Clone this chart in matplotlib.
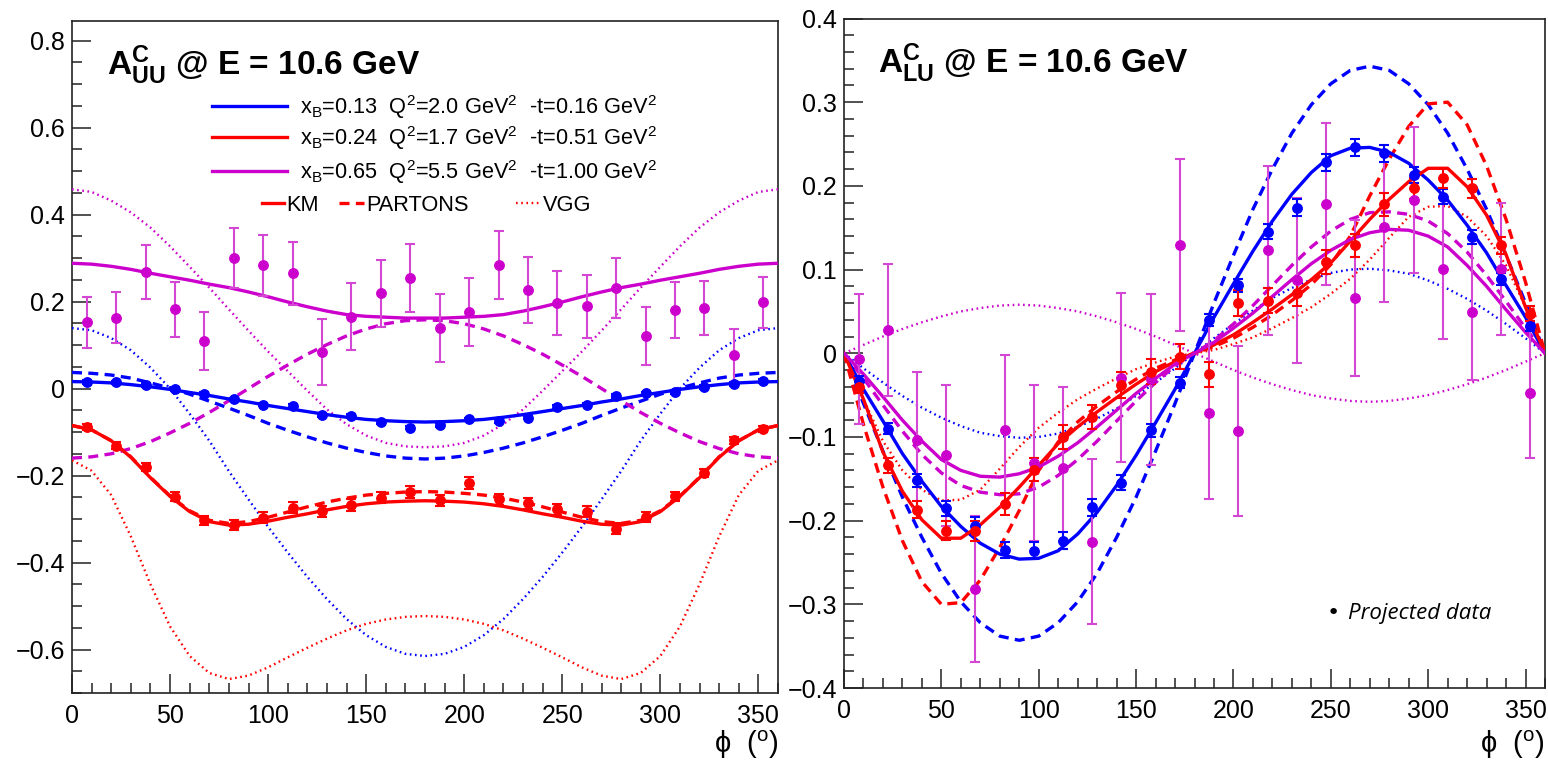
import numpy as np
import matplotlib
matplotlib.use("Agg")
import matplotlib.pyplot as plt
from matplotlib.ticker import MultipleLocator, FuncFormatter

plt.rcParams['font.family'] = ['Liberation Sans', 'DejaVu Sans']
plt.rcParams['mathtext.fontset'] = 'custom'
plt.rcParams['mathtext.rm'] = 'Liberation Sans'
plt.rcParams['mathtext.it'] = 'Liberation Sans:italic'
plt.rcParams['mathtext.bf'] = 'Liberation Sans:bold'
plt.rcParams['mathtext.default'] = 'regular'
plt.rcParams['axes.unicode_minus'] = True

# ---------------- data ----------------
phi_curve = np.arange(0, 361, 10)          # model curves sampled every 10 deg
phi_bins = np.arange(7.5, 360, 15)         # projected data bin centres

# A_UU (left panel) model curves
uu_km_blue = [0.016, 0.015, 0.013, 0.009, 0.004, -0.002, -0.009, -0.016, -0.024, -0.031, -0.039, -0.046,
              -0.053, -0.060, -0.066, -0.071, -0.074, -0.076, -0.077,
              -0.076, -0.074, -0.071, -0.066, -0.060, -0.053, -0.046, -0.039, -0.031, -0.024, -0.016,
              -0.009, -0.002, 0.004, 0.009, 0.013, 0.015, 0.016]
uu_pa_blue = [0.037, 0.035, 0.031, 0.024, 0.013, 0.001, -0.013, -0.029, -0.045, -0.062, -0.080, -0.096,
              -0.111, -0.125, -0.137, -0.147, -0.155, -0.160, -0.162,
              -0.160, -0.155, -0.147, -0.137, -0.125, -0.111, -0.096, -0.080, -0.062, -0.045, -0.029,
              -0.013, 0.001, 0.013, 0.024, 0.031, 0.035, 0.037]
uu_vgg_blue = [0.139, 0.134, 0.116, 0.088, 0.048, 0.000, -0.058, -0.120, -0.190, -0.255, -0.318, -0.377,
               -0.433, -0.484, -0.530, -0.567, -0.594, -0.610, -0.615,
               -0.610, -0.594, -0.567, -0.530, -0.484, -0.433, -0.377, -0.318, -0.255, -0.190, -0.120,
               -0.058, 0.000, 0.048, 0.088, 0.116, 0.134, 0.139]
uu_km_red = [-0.085, -0.095, -0.120, -0.158, -0.205, -0.248, -0.283, -0.306, -0.314, -0.312, -0.305, -0.296,
             -0.288, -0.279, -0.271, -0.265, -0.261, -0.259, -0.258,
             -0.259, -0.261, -0.265, -0.271, -0.279, -0.288, -0.296, -0.305, -0.312, -0.314, -0.306,
             -0.283, -0.248, -0.205, -0.158, -0.120, -0.095, -0.085]
uu_pa_red = [-0.085, -0.095, -0.120, -0.157, -0.204, -0.247, -0.281, -0.303, -0.310, -0.306, -0.296, -0.284,
             -0.272, -0.261, -0.252, -0.245, -0.241, -0.238, -0.237,
             -0.238, -0.241, -0.245, -0.252, -0.261, -0.272, -0.284, -0.296, -0.306, -0.310, -0.303,
             -0.281, -0.247, -0.204, -0.157, -0.120, -0.095, -0.085]
uu_vgg_red = [-0.165, -0.189, -0.245, -0.340, -0.450, -0.547, -0.615, -0.654, -0.668, -0.660, -0.641, -0.618,
              -0.596, -0.575, -0.556, -0.541, -0.531, -0.525, -0.523,
              -0.525, -0.531, -0.541, -0.556, -0.575, -0.596, -0.618, -0.641, -0.660, -0.668, -0.654,
              -0.615, -0.547, -0.450, -0.340, -0.245, -0.189, -0.165]
uu_km_mag = [0.288, 0.286, 0.281, 0.274, 0.265, 0.257, 0.249, 0.240, 0.232, 0.222, 0.211, 0.199,
             0.188, 0.178, 0.170, 0.166, 0.164, 0.162, 0.162,
             0.162, 0.164, 0.166, 0.170, 0.178, 0.188, 0.199, 0.211, 0.222, 0.232, 0.240,
             0.249, 0.257, 0.265, 0.274, 0.281, 0.286, 0.288]
uu_pa_mag = [-0.160, -0.157, -0.150, -0.138, -0.122, -0.102, -0.080, -0.055, -0.028, 0.000, 0.028, 0.054,
             0.079, 0.101, 0.121, 0.137, 0.149, 0.156, 0.158,
             0.156, 0.149, 0.137, 0.121, 0.101, 0.079, 0.054, 0.028, 0.000, -0.028, -0.055,
             -0.080, -0.102, -0.122, -0.138, -0.150, -0.157, -0.160]
uu_vgg_mag = [0.458, 0.452, 0.432, 0.405, 0.370, 0.327, 0.280, 0.232, 0.182, 0.133, 0.085, 0.040,
              -0.005, -0.048, -0.082, -0.108, -0.125, -0.133, -0.135,
              -0.133, -0.125, -0.108, -0.082, -0.048, -0.005, 0.040, 0.085, 0.133, 0.182, 0.232,
              0.280, 0.327, 0.370, 0.405, 0.432, 0.452, 0.458]

# A_UU projected data
uu_blue_pts = [0.015, 0.014, 0.008, -0.001, -0.012, -0.025, -0.037, -0.040, -0.061, -0.063, -0.077, -0.090,
               -0.084, -0.071, -0.075, -0.067, -0.042, -0.037, -0.017, -0.011, -0.008, 0.004, 0.010, 0.017]
uu_blue_err = [0.004] * 24
uu_red_pts = [-0.088, -0.132, -0.180, -0.249, -0.303, -0.314, -0.297, -0.274, -0.282, -0.268, -0.251, -0.238,
              -0.257, -0.217, -0.255, -0.264, -0.278, -0.283, -0.322, -0.295, -0.248, -0.195, -0.119, -0.092]
uu_red_err = [0.007, 0.008, 0.009, 0.010, 0.011, 0.012, 0.012, 0.012, 0.013, 0.013, 0.013, 0.013,
              0.013, 0.013, 0.013, 0.013, 0.012, 0.012, 0.012, 0.011, 0.010, 0.009, 0.008, 0.007]
uu_mag_pts = [0.152, 0.163, 0.268, 0.182, 0.109, 0.300, 0.283, 0.265, 0.085, 0.165, 0.219, 0.254,
              0.140, 0.175, 0.284, 0.227, 0.196, 0.189, 0.231, 0.121, 0.181, 0.186, 0.076, 0.198]
uu_mag_err = [0.059, 0.059, 0.062, 0.064, 0.066, 0.069, 0.070, 0.072, 0.076, 0.077, 0.077, 0.078,
              0.078, 0.078, 0.078, 0.076, 0.074, 0.072, 0.069, 0.066, 0.064, 0.062, 0.060, 0.059]

# A_LU (right panel) model curves
lu_km_blue = [0.0, -0.043, -0.081, -0.120, -0.153, -0.183, -0.207, -0.227, -0.240, -0.246, -0.245, -0.236,
              -0.216, -0.190, -0.158, -0.122, -0.083, -0.043, 0.0,
              0.043, 0.083, 0.122, 0.158, 0.190, 0.216, 0.236, 0.245, 0.246, 0.240, 0.227,
              0.207, 0.183, 0.153, 0.120, 0.081, 0.043, 0.0]
lu_pa_blue = [0.0, -0.060, -0.117, -0.172, -0.220, -0.263, -0.297, -0.322, -0.338, -0.343, -0.338, -0.322,
              -0.297, -0.263, -0.220, -0.172, -0.117, -0.060, 0.0,
              0.060, 0.117, 0.172, 0.220, 0.263, 0.297, 0.322, 0.338, 0.343, 0.338, 0.322,
              0.297, 0.263, 0.220, 0.172, 0.117, 0.060, 0.0]
lu_vgg_blue = [0.0, -0.018, -0.035, -0.051, -0.065, -0.077, -0.087, -0.095, -0.099, -0.101, -0.100, -0.096,
               -0.088, -0.078, -0.066, -0.051, -0.035, -0.018, 0.0,
               0.018, 0.035, 0.051, 0.066, 0.078, 0.088, 0.096, 0.100, 0.101, 0.099, 0.095,
               0.087, 0.077, 0.065, 0.051, 0.035, 0.018, 0.0]
lu_km_red = [0.0, -0.055, -0.118, -0.165, -0.199, -0.221, -0.221, -0.205, -0.184, -0.160, -0.134, -0.108,
             -0.088, -0.070, -0.053, -0.037, -0.022, -0.010, 0.0,
             0.010, 0.022, 0.037, 0.053, 0.070, 0.088, 0.108, 0.134, 0.160, 0.184, 0.205,
             0.221, 0.221, 0.199, 0.165, 0.118, 0.055, 0.0]
lu_pa_red = [0.0, -0.085, -0.160, -0.224, -0.273, -0.300, -0.298, -0.271, -0.232, -0.188, -0.140, -0.106,
             -0.082, -0.063, -0.046, -0.031, -0.018, -0.008, 0.0,
             0.008, 0.018, 0.031, 0.046, 0.063, 0.082, 0.106, 0.140, 0.188, 0.232, 0.271,
             0.298, 0.300, 0.273, 0.224, 0.160, 0.085, 0.0]
lu_vgg_red = [0.0, -0.055, -0.105, -0.140, -0.163, -0.176, -0.175, -0.163, -0.138, -0.112, -0.089, -0.071,
              -0.055, -0.042, -0.030, -0.019, -0.011, -0.004, 0.0,
              0.004, 0.011, 0.019, 0.030, 0.042, 0.055, 0.071, 0.089, 0.112, 0.138, 0.163,
              0.175, 0.176, 0.163, 0.140, 0.105, 0.055, 0.0]
lu_km_mag = [0.0, -0.025, -0.052, -0.080, -0.105, -0.127, -0.140, -0.147, -0.148, -0.144, -0.136, -0.123,
             -0.107, -0.088, -0.068, -0.048, -0.030, -0.013, 0.0,
             0.013, 0.030, 0.048, 0.068, 0.088, 0.107, 0.123, 0.136, 0.144, 0.148, 0.147,
             0.140, 0.127, 0.105, 0.080, 0.052, 0.025, 0.0]
lu_pa_mag = [0.0, -0.030, -0.062, -0.093, -0.121, -0.143, -0.158, -0.166, -0.169, -0.168, -0.160, -0.146,
             -0.127, -0.105, -0.081, -0.057, -0.035, -0.015, 0.0,
             0.015, 0.035, 0.057, 0.081, 0.105, 0.127, 0.146, 0.160, 0.168, 0.169, 0.166,
             0.158, 0.143, 0.121, 0.093, 0.062, 0.030, 0.0]
lu_vgg_mag = [0.0, 0.010, 0.020, 0.029, 0.037, 0.044, 0.050, 0.054, 0.057, 0.058, 0.057, 0.054,
              0.050, 0.044, 0.037, 0.029, 0.020, 0.010, 0.0,
              -0.010, -0.020, -0.029, -0.037, -0.044, -0.050, -0.054, -0.057, -0.058, -0.057, -0.054,
              -0.050, -0.044, -0.037, -0.029, -0.020, -0.010, 0.0]

# A_LU projected data
lu_blue_pts = [-0.033, -0.090, -0.152, -0.185, -0.206, -0.235, -0.236, -0.224, -0.184, -0.155, -0.092, -0.035,
               0.040, 0.081, 0.145, 0.174, 0.228, 0.246, 0.239, 0.213, 0.187, 0.139, 0.089, 0.033]
lu_blue_err = [0.006, 0.007, 0.008, 0.009, 0.010, 0.010, 0.010, 0.010, 0.010, 0.009, 0.008, 0.007,
               0.007, 0.008, 0.009, 0.010, 0.010, 0.010, 0.010, 0.010, 0.009, 0.008, 0.007, 0.006]
lu_red_pts = [-0.040, -0.134, -0.187, -0.212, -0.212, -0.180, -0.139, -0.100, -0.076, -0.038, -0.022, -0.004,
              -0.025, 0.060, 0.063, 0.072, 0.109, 0.129, 0.178, 0.197, 0.209, 0.197, 0.129, 0.047]
lu_red_err = [0.008, 0.009, 0.010, 0.011, 0.012, 0.013, 0.014, 0.014, 0.014, 0.015, 0.015, 0.015,
              0.015, 0.015, 0.015, 0.015, 0.014, 0.014, 0.014, 0.013, 0.012, 0.011, 0.010, 0.009]
lu_mag_pts = [-0.007, 0.028, -0.104, -0.122, -0.282, -0.092, -0.131, -0.137, -0.225, -0.029, -0.031, 0.129,
              -0.071, -0.093, 0.123, 0.087, 0.178, 0.066, 0.151, 0.183, 0.101, 0.049, 0.101, -0.047]
lu_mag_err = [0.078, 0.079, 0.081, 0.084, 0.087, 0.090, 0.093, 0.097, 0.099, 0.101, 0.102, 0.103,
              0.103, 0.102, 0.101, 0.099, 0.097, 0.093, 0.090, 0.087, 0.084, 0.081, 0.079, 0.078]

legend_labels = [r'x$_{B}$=0.13  Q$^{2}$=2.0 GeV$^{2}$  -t=0.16 GeV$^{2}$',
                 r'x$_{B}$=0.24  Q$^{2}$=1.7 GeV$^{2}$  -t=0.51 GeV$^{2}$',
                 r'x$_{B}$=0.65  Q$^{2}$=5.5 GeV$^{2}$  -t=1.00 GeV$^{2}$']
model_labels = ['KM', 'PARTONS', 'VGG']

BLUE = '#0000FF'
RED = '#FF0000'
MAG = '#CC00CC'
MAG_ERR = '#D447D4'
colors = [BLUE, RED, MAG]

# ---------------- figure ----------------
W, H = 1548, 762
fig = plt.figure(figsize=(W / 100, H / 100), dpi=100)


def fx(px):
    return px / W


def fy(py):
    return 1 - py / H


axL = fig.add_axes([fx(72), fy(693), fx(778 - 72), (693 - 21) / H])
axR = fig.add_axes([fx(844), fy(688), fx(1545 - 844), (688 - 18.5) / H])

STY = {
    'km': dict(lw=2.4, ls='-'),
    'pa': dict(lw=2.4, ls=(0, (3.0, 1.9))),
    'vgg': dict(lw=1.7, ls=(0, (0.7, 1.5))),
}


def draw_models(ax, curves):
    for (y, col, kind) in curves:
        ax.plot(phi_curve, y, color=col, zorder=3, **STY[kind])


def draw_points(ax, sets):
    for (y, e, col, ecol) in sets:
        ax.errorbar(phi_bins, y, yerr=e, fmt='o', color=col, ecolor=ecol, ms=6.8,
                    mec=col, mfc=col, elinewidth=1.5, capsize=3.8, capthick=1.5, zorder=5)


draw_models(axL, [
    (uu_vgg_blue, BLUE, 'vgg'), (uu_vgg_red, RED, 'vgg'), (uu_vgg_mag, MAG, 'vgg'),
    (uu_pa_blue, BLUE, 'pa'), (uu_pa_red, RED, 'pa'), (uu_pa_mag, MAG, 'pa'),
    (uu_km_blue, BLUE, 'km'), (uu_km_red, RED, 'km'), (uu_km_mag, MAG, 'km'),
])
draw_points(axL, [
    (uu_mag_pts, uu_mag_err, MAG, MAG_ERR),
    (uu_blue_pts, uu_blue_err, BLUE, BLUE),
    (uu_red_pts, uu_red_err, RED, RED),
])

draw_models(axR, [
    (lu_vgg_blue, BLUE, 'vgg'), (lu_vgg_red, RED, 'vgg'), (lu_vgg_mag, MAG, 'vgg'),
    (lu_pa_blue, BLUE, 'pa'), (lu_pa_red, RED, 'pa'), (lu_pa_mag, MAG, 'pa'),
    (lu_km_blue, BLUE, 'km'), (lu_km_red, RED, 'km'), (lu_km_mag, MAG, 'km'),
])
draw_points(axR, [
    (lu_mag_pts, lu_mag_err, MAG, MAG_ERR),
    (lu_blue_pts, lu_blue_err, BLUE, BLUE),
    (lu_red_pts, lu_red_err, RED, RED),
])


def fmt(v, p):
    if abs(v) < 1e-9:
        return '0'
    return ('%.1f' % v).replace('-', '\u2212')


for ax, ylim, ymaj, ymin in [(axL, (-0.70, 0.845), 0.2, 0.05), (axR, (-0.40, 0.40), 0.1, 0.02)]:
    ax.set_xlim(0, 360)
    ax.set_ylim(*ylim)
    ax.xaxis.set_major_locator(MultipleLocator(50))
    ax.xaxis.set_minor_locator(MultipleLocator(10))
    ax.yaxis.set_major_locator(MultipleLocator(ymaj))
    ax.yaxis.set_minor_locator(MultipleLocator(ymin))
    ax.yaxis.set_major_formatter(FuncFormatter(fmt))
    ax.tick_params(which='both', direction='in', top=False, right=False, colors='#222222',
                   width=1.1, labelsize=18, labelcolor='black')
    ax.tick_params(which='major', length=14)
    ax.tick_params(which='minor', length=7)
    ax.tick_params(axis='x', pad=8)
    ax.tick_params(axis='y', pad=5)
    for s in ax.spines.values():
        s.set_linewidth(1.2)
        s.set_color('#222222')

# titles
fig.text(fx(107), fy(75), r'$\mathbf{A^{C}_{UU}}$ @ E = 10.6 GeV', fontsize=24,
         fontweight='bold', va='baseline', ha='left')
fig.text(fx(878), fy(73), r'$\mathbf{A^{C}_{LU}}$ @ E = 10.6 GeV', fontsize=24,
         fontweight='bold', va='baseline', ha='left')

# axis labels
for xr in (779, 1545):
    fig.text(fx(xr), fy(745), 'ϕ  ($^{o}$)', fontsize=21, ha='right', va='center')

# legend (drawn on the left panel)
rows = [106, 137, 171]
for yrow, col, lab in zip(rows, colors, legend_labels):
    fig.add_artist(plt.Line2D([fx(212), fx(287)], [fy(yrow), fy(yrow)], color=col, lw=2.4))
    fig.text(fx(300), fy(yrow + 8), lab, fontsize=15.7, va='baseline', ha='left')

y4 = 203
for (x0, x1, xt, kind, lab) in [(262, 284, 286, 'km', model_labels[0]),
                                (339, 364, 366, 'pa', model_labels[1]),
                                (516, 540, 543, 'vgg', model_labels[2])]:
    fig.add_artist(plt.Line2D([fx(x0), fx(x1)], [fy(y4), fy(y4)], color=RED, **STY[kind]))
    fig.text(fx(xt), fy(y4 + 8), lab, fontsize=15.7, va='baseline', ha='left')

# projected data note
fig.text(fx(1327), fy(613), '\u2022', fontsize=16, va='center', ha='left', family='DejaVu Sans')
fig.text(fx(1348), fy(613), 'Projected data', fontsize=16, style='italic', family='Open Sans',
         va='center', ha='left')

fig.savefig('out.png', dpi=100)
